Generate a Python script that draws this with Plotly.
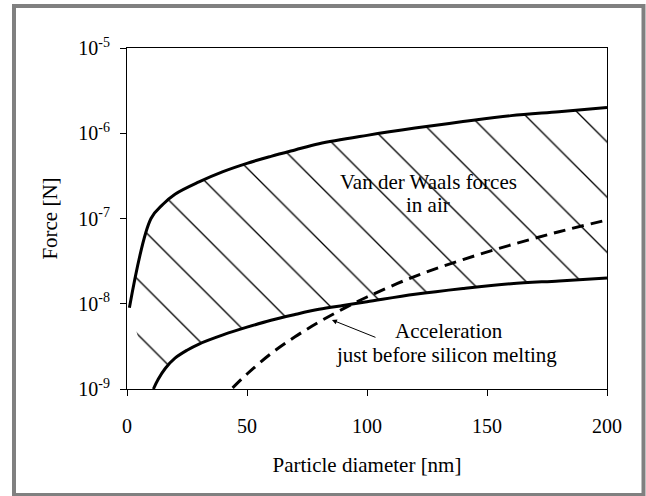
import plotly.graph_objects as go

# Data
diam_upper = [1, 10, 15, 20, 30, 40, 50, 60, 70, 80, 100, 120, 140, 160, 180, 200]
force_upper = [9e-9, 1.0e-7, 1.47e-7, 1.93e-7, 2.69e-7, 3.55e-7, 4.44e-7, 5.36e-7,
               6.37e-7, 7.53e-7, 9.44e-7, 1.15e-6, 1.37e-6, 1.61e-6, 1.79e-6, 2.0e-6]

diam_lower = [11, 13, 16, 20, 25, 30, 40, 50, 60, 70, 80, 90, 100, 120, 140, 160, 180, 200]
force_lower = [1.0e-9, 1.3e-9, 1.75e-9, 2.3e-9, 2.85e-9, 3.37e-9, 4.31e-9, 5.31e-9,
               6.41e-9, 7.48e-9, 8.6e-9, 9.55e-9, 1.054e-8, 1.29e-8, 1.51e-8,
               1.72e-8, 1.85e-8, 2.0e-8]

diam_accel = [44, 50, 60, 70, 80, 90, 100, 120, 140, 160, 180, 200]
force_accel = [1.03e-9, 1.5e-9, 2.6e-9, 4.1e-9, 6.1e-9, 8.7e-9, 1.2e-8, 2.1e-8,
               3.3e-8, 4.9e-8, 7.0e-8, 9.6e-8]

x_ticks = [0, 50, 100, 150, 200]
y_ticks = [1e-9, 1e-8, 1e-7, 1e-6, 1e-5]
y_ticktext = ["10<sup>-9</sup>", "10<sup>-8</sup>", "10<sup>-7</sup>",
              "10<sup>-6</sup>", "10<sup>-5</sup>"]

FONT = "Liberation Serif"

fig = go.Figure()

fig.add_trace(go.Scatter(x=diam_lower, y=force_lower, mode="lines",
                         line=dict(color="black", width=3, shape="spline", smoothing=1),
                         showlegend=False))
fig.add_trace(go.Scatter(x=diam_upper, y=force_upper, mode="lines",
                         line=dict(color="black", width=3, shape="spline", smoothing=1),
                         fill="tonexty", fillcolor="white",
                         fillpattern=dict(shape="\\", size=39, solidity=0.035,
                                          fgcolor="black", bgcolor="white",
                                          fillmode="replace"),
                         showlegend=False))
fig.add_trace(go.Scatter(x=diam_accel, y=force_accel, mode="lines",
                         line=dict(color="black", width=3, dash="12px,7px",
                                   shape="spline", smoothing=1),
                         showlegend=False))

W, H = 646, 496
L, R, T, B = 127, 39, 48, 107
pw, ph = W - L - R, H - T - B


def px2paper(px, py):
    return (px - L) / pw, (H - B - py) / ph


x0, y0 = px2paper(14, 6)
x1, y1 = px2paper(643.5, 495)

fig.update_layout(
    width=W, height=H,
    margin=dict(l=L, r=R, t=T, b=B),
    paper_bgcolor="white", plot_bgcolor="white",
    font=dict(family=FONT, size=20, color="black"),
    xaxis=dict(range=[0, 200], tickvals=x_ticks, ticks="outside", ticklen=6,
               tickcolor="black", showline=True, linecolor="black", linewidth=1,
               mirror=True, showgrid=False, zeroline=False,
               title=dict(text="Particle diameter [nm]", standoff=21,
                          font=dict(size=21)),
               ticklabelstandoff=13),
    yaxis=dict(type="log", range=[-9, -5], tickvals=y_ticks, ticktext=y_ticktext,
               ticks="outside", ticklen=6, tickcolor="black", showline=True,
               linecolor="black", linewidth=1, mirror=True, showgrid=False,
               zeroline=False, title=dict(text="Force [N]", standoff=14,
                                          font=dict(size=21)),
               ticklabelstandoff=6),
    shapes=[dict(type="rect", xref="paper", yref="paper", x0=x0, y0=y1, x1=x1, y1=y0,
                 line=dict(color="#808080", width=4), fillcolor="rgba(0,0,0,0)",
                 layer="below")],
    annotations=[
        dict(x=125.8, y=-6.571, text="Van der Waals forces", showarrow=False,
             xanchor="center", yanchor="middle", font=dict(size=21)),
        dict(x=125.4, y=-6.84, text="in air", showarrow=False,
             xanchor="center", yanchor="middle", font=dict(size=21)),
        dict(x=134.2, y=-8.32, text="Acceleration", showarrow=False,
             xanchor="center", yanchor="middle", font=dict(size=21)),
        dict(x=133.3, y=-8.60, text="just before silicon melting", showarrow=False,
             xanchor="center", yanchor="middle", font=dict(size=21)),
        dict(x=85.4, y=-8.19, text="", showarrow=True, ax=45, ay=18,
             arrowhead=2, arrowsize=1, arrowwidth=1, arrowcolor="black"),
    ],
)

fig.write_html("out.html")
